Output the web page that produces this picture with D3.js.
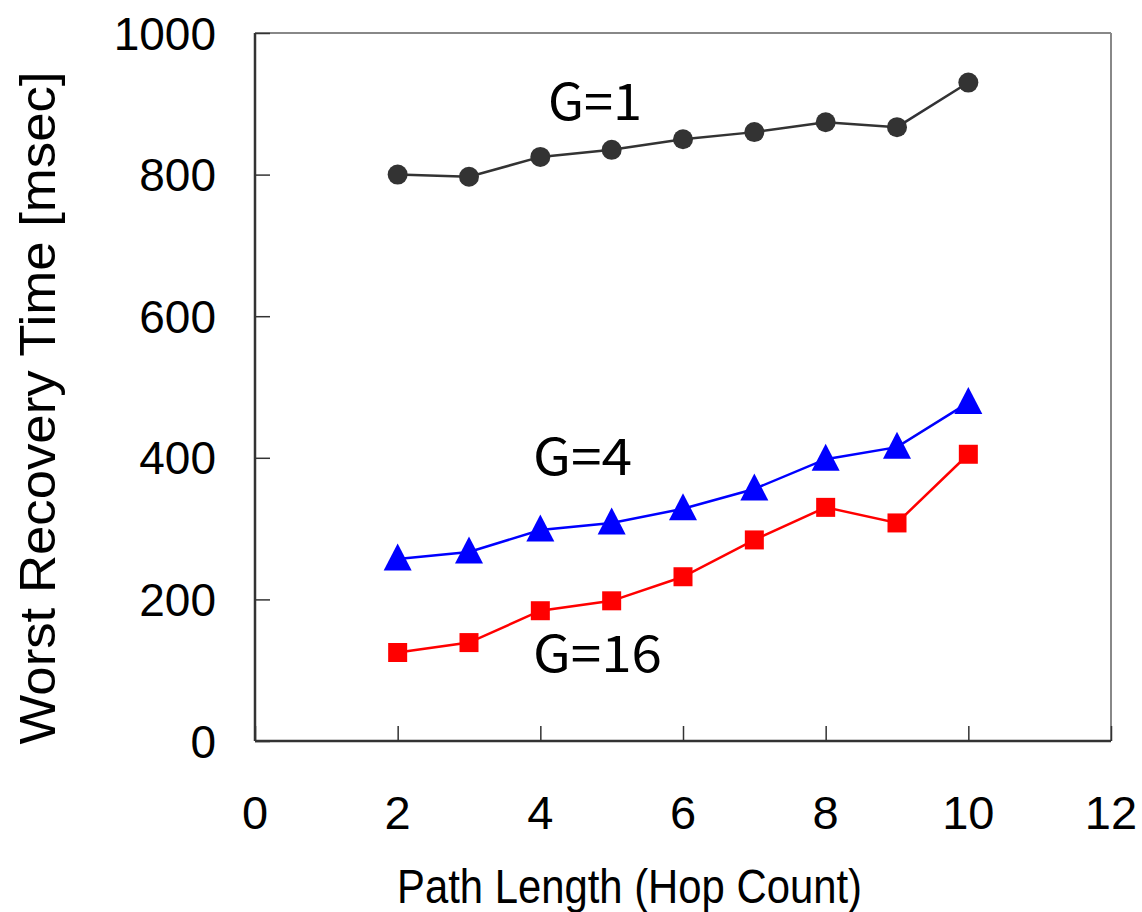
<!DOCTYPE html>
<html>
<head>
<meta charset="utf-8">
<script src="https://cdn.jsdelivr.net/npm/d3@7"></script>
<style>
  html, body { margin: 0; padding: 0; background: #fff; }
  svg { display: block; }
</style>
</head>
<body>
<svg id="chart" width="1142" height="912"></svg>
<script>
// ---- data ----
const hops = [2, 3, 4, 5, 6, 7, 8, 9, 10];
const g1Values = [800, 797, 825, 835, 850, 860, 874, 867, 930];
const g4Values = [257, 267, 298, 308, 328, 356, 398, 415, 478];
const g16Values = [125, 139, 184, 198, 232, 284, 330, 308, 405];
const xTicks = [0, 2, 4, 6, 8, 10, 12];
const yTicks = [0, 200, 400, 600, 800, 1000];
const seriesLabels = ["G=1", "G=4", "G=16"];
const xTitle = "Path Length (Hop Count)";
const yTitle = "Worst Recovery Time [msec]";

(function () {
// ---- layout ----
const svg = d3.select("#chart");
const pL = 255, pR = 1111, pT = 33, pB = 741;
const x = d3.scaleLinear().domain([0, 12]).range([pL, pR]);
const y = d3.scaleLinear().domain([0, 1000]).range([pB, pT]);

const tickFont = "'Liberation Sans', Arial, sans-serif";
const labelFont = "'Noto Sans CJK JP', 'Noto Sans', sans-serif";

// frame: top and right grey
svg.append("line").attr("x1", pL).attr("x2", pR).attr("y1", pT).attr("y2", pT)
  .attr("stroke", "#888").attr("stroke-width", 2);
svg.append("line").attr("x1", pR).attr("x2", pR).attr("y1", pT).attr("y2", pB)
  .attr("stroke", "#888").attr("stroke-width", 2);

// axes
const yAxis = d3.axisRight(y).tickValues(yTicks).tickSize(15).tickFormat("");
const yg = svg.append("g").attr("transform", `translate(${pL},0)`).call(yAxis);
yg.select(".domain").attr("stroke", "#333").attr("stroke-width", 2.5).attr("d", `M0,${pT}V${pB}`);
yg.selectAll(".tick line").attr("stroke", "#333").attr("stroke-width", 1.5);

const xAxis = d3.axisTop(x).tickValues(xTicks).tickSize(15).tickFormat("");
const xg = svg.append("g").attr("transform", `translate(0,${pB})`).call(xAxis);
xg.select(".domain").attr("stroke", "#333").attr("stroke-width", 2.5).attr("d", `M${pL},0H${pR}`);
xg.selectAll(".tick line").attr("stroke", "#333").attr("stroke-width", 1.5);

// tick labels
svg.append("g").selectAll("text").data(yTicks).join("text")
  .attr("x", 216).attr("y", d => y(d)).attr("dy", "0.36em")
  .attr("text-anchor", "end").attr("font-family", tickFont).attr("font-size", 46)
  .attr("fill", "#000").text(d => d);

svg.append("g").selectAll("text").data(xTicks).join("text")
  .attr("x", d => x(d)).attr("y", 829)
  .attr("text-anchor", "middle").attr("font-family", tickFont).attr("font-size", 47)
  .attr("fill", "#000").text(d => d);

// axis titles
svg.append("text").attr("x", 397).attr("y", 903)
  .attr("font-family", tickFont).attr("font-size", 49)
  .attr("textLength", 465).attr("lengthAdjust", "spacingAndGlyphs")
  .attr("fill", "#000").text(xTitle);

svg.append("text")
  .attr("transform", "translate(55,408) rotate(-90)")
  .attr("text-anchor", "middle")
  .attr("font-family", tickFont).attr("font-size", 50)
  .attr("textLength", 673).attr("lengthAdjust", "spacingAndGlyphs")
  .attr("fill", "#000").text(yTitle);

// series
const line = d3.line().x(d => x(d[0])).y(d => y(d[1]));
const s1 = hops.map((h, i) => [h, g1Values[i]]);
const s4 = hops.map((h, i) => [h, g4Values[i]]);
const s16 = hops.map((h, i) => [h, g16Values[i]]);

svg.append("path").datum(s1).attr("d", line).attr("fill", "none").attr("stroke", "#333").attr("stroke-width", 2.5);
svg.append("path").datum(s4).attr("d", line).attr("fill", "none").attr("stroke", "#0000ff").attr("stroke-width", 2.5);
svg.append("path").datum(s16).attr("d", line).attr("fill", "none").attr("stroke", "#ff0000").attr("stroke-width", 2.5);

svg.append("g").selectAll("circle").data(s1).join("circle")
  .attr("cx", d => x(d[0])).attr("cy", d => y(d[1])).attr("r", 10).attr("fill", "#333");

svg.append("g").selectAll("path").data(s4).join("path")
  .attr("transform", d => `translate(${x(d[0])},${y(d[1])})`)
  .attr("d", "M0,-15.5L14,11.5L-14,11.5Z").attr("fill", "#0000ff");

svg.append("g").selectAll("rect").data(s16).join("rect")
  .attr("x", d => x(d[0]) - 9.5).attr("y", d => y(d[1]) - 9.5)
  .attr("width", 19).attr("height", 19).attr("fill", "#ff0000");

// series labels
const labelPos = [
  { x: 548, y: 120, w: 94 },
  { x: 533, y: 475, w: 99 },
  { x: 533, y: 672, w: 129 }
];
svg.append("g").selectAll("text").data(seriesLabels).join("text")
  .attr("x", (d, i) => labelPos[i].x).attr("y", (d, i) => labelPos[i].y)
  .attr("font-family", labelFont).attr("font-size", 50)
  .attr("textLength", (d, i) => labelPos[i].w).attr("lengthAdjust", "spacingAndGlyphs")
  .attr("fill", "#000").text(d => d);
})();
</script>
</body>
</html>
